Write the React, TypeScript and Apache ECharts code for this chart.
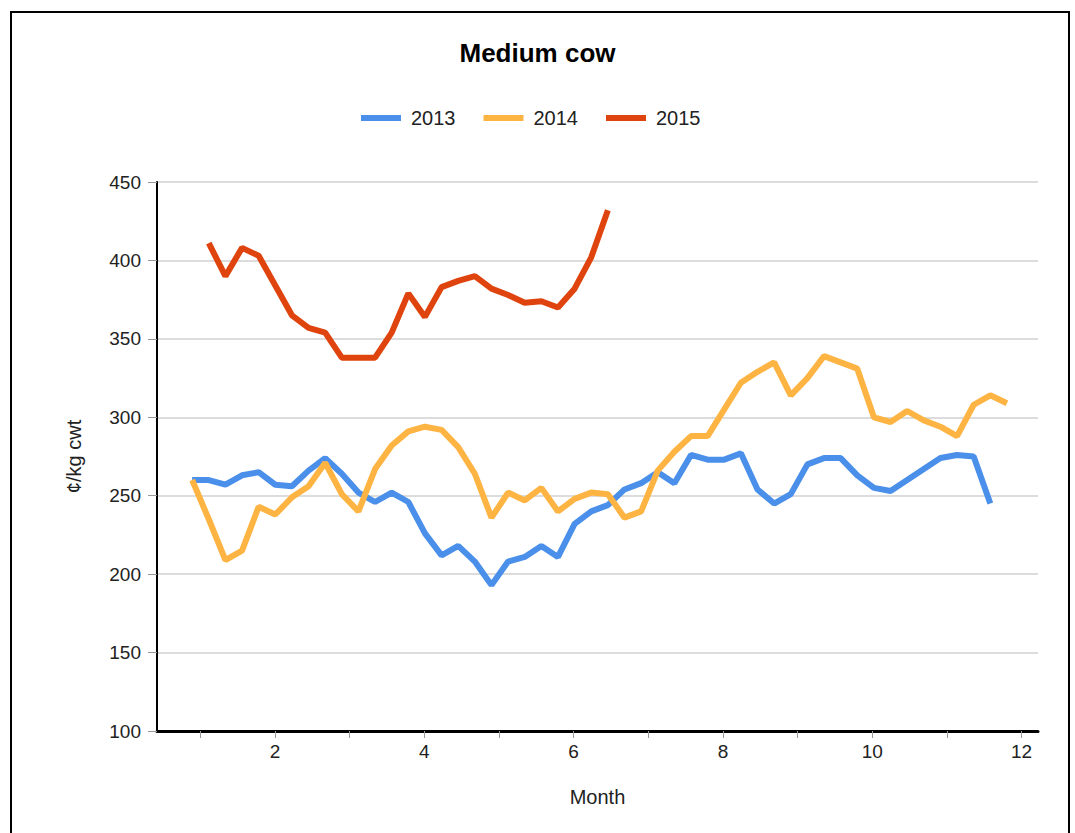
import React, { useEffect, useRef } from "react";
import * as echarts from "echarts";

// Week-of-year positions: first week plotted and weeks per month on the Month axis
const WEEKS_PER_MONTH = 4.49;
const START_WEEK_2013 = 4;
const START_WEEK_2014 = 4;
const START_WEEK_2015 = 5;

const years = ["2013", "2014", "2015"];
const colors = ["#4A8FEA", "#FDB443", "#E0440E"];

const values2013 = [
  260, 260, 257, 263, 265, 257, 256, 266, 274, 264, 252, 246, 252, 246, 226, 212,
  218, 208, 193, 208, 211, 218, 211, 232, 240, 244, 254, 258, 265, 258, 276, 273,
  273, 277, 254, 245, 251, 270, 274, 274, 263, 255, 253, 260, 267, 274, 276, 275,
  245,
];

const values2014 = [
  260, 235, 209, 215, 243, 238, 249, 256, 271, 251, 240, 267, 282, 291, 294, 292,
  281, 264, 236, 252, 247, 255, 240, 248, 252, 251, 236, 240, 266, 278, 288, 288,
  305, 322, 329, 335, 314, 325, 339, 335, 331, 300, 297, 304, 298, 294, 288, 308,
  314, 309,
];

const values2015 = [
  411, 390, 408, 403, 384, 365, 357, 354, 338, 338, 338, 354, 379, 364, 383, 387,
  390, 382, 378, 373, 374, 370, 382, 402, 432,
];

const yTicks = { min: 100, max: 450, step: 50 };
const monthTicks = [1, 2, 3, 4, 5, 6, 7, 8, 9, 10, 11, 12];
const monthLabels = [2, 4, 6, 8, 10, 12];

const toPoints = (vals: number[], startWeek: number) =>
  vals.map((v, i) => [(startWeek + i) / WEEKS_PER_MONTH, v]);

const FONT = "'Liberation Sans', Arial, sans-serif";

export default function App() {
  const ref = useRef<HTMLDivElement>(null);

  useEffect(() => {
    if (!ref.current) return;
    const chart = echarts.init(ref.current, undefined, { renderer: "svg" });
    const seriesData = [
      toPoints(values2013, START_WEEK_2013),
      toPoints(values2014, START_WEEK_2014),
      toPoints(values2015, START_WEEK_2015),
    ];
    chart.setOption({
      animation: false,
      backgroundColor: "#ffffff",
      color: colors,
      textStyle: { fontFamily: FONT },
      title: {
        text: "Medium cow",
        left: "center",
        top: 35,
        textStyle: { fontSize: 26, fontWeight: "bold", color: "#000", fontFamily: FONT },
      },
      legend: {
        left: 356,
        top: 103,
        icon: "rect",
        itemWidth: 40,
        itemHeight: 6,
        itemGap: 28,
        textStyle: { fontSize: 20, color: "#222", fontFamily: FONT, padding: [0, 0, 0, 5] },
        data: years,
      },
      grid: { left: 157, right: 37, top: 182, bottom: 102, containLabel: false },
      xAxis: {
        type: "value",
        min: 0.42,
        max: 12.22,
        name: "Month",
        nameLocation: "middle",
        nameGap: 56,
        nameTextStyle: { fontSize: 20, color: "#222", fontFamily: FONT },
        axisLine: { show: true, lineStyle: { color: "#000", width: 3 } },
        axisTick: {
          show: true,
          length: 7,
          customValues: monthTicks,
          lineStyle: { color: "#999", width: 1 },
        },
        axisLabel: {
          customValues: monthLabels,
          fontSize: 19,
          color: "#222",
          margin: 11,
          fontFamily: FONT,
        },
        splitLine: { show: false },
      },
      yAxis: {
        type: "value",
        min: yTicks.min,
        max: yTicks.max,
        interval: yTicks.step,
        name: "¢/kg cwt",
        nameLocation: "middle",
        nameGap: 73,
        nameTextStyle: { fontSize: 20, color: "#222", fontFamily: FONT },
        axisLine: { show: true, lineStyle: { color: "#000", width: 2 } },
        axisTick: { show: true, length: 9, lineStyle: { color: "#999", width: 1 } },
        axisLabel: { fontSize: 19, color: "#222", margin: 16, fontFamily: FONT },
        splitLine: { show: true, lineStyle: { color: "#dcdcdc", width: 2 } },
      },
      graphic: [
        {
          type: "rect",
          shape: { x: 11, y: 12, width: 1058, height: 900 },
          style: { fill: "none", stroke: "#000", lineWidth: 2 },
          silent: true,
          z: 100,
        },
      ],
      series: years.map((y, i) => ({
        name: y,
        type: "line",
        data: seriesData[i],
        showSymbol: false,
        symbol: "none",
        lineStyle: { width: 6, color: colors[i] },
        itemStyle: { color: colors[i] },
      })),
    });
    return () => chart.dispose();
  }, []);

  return (
    <div
      ref={ref}
      style={{ position: "fixed", left: 0, top: 0, width: 1075, height: 833, background: "#fff" }}
    />
  );
}
